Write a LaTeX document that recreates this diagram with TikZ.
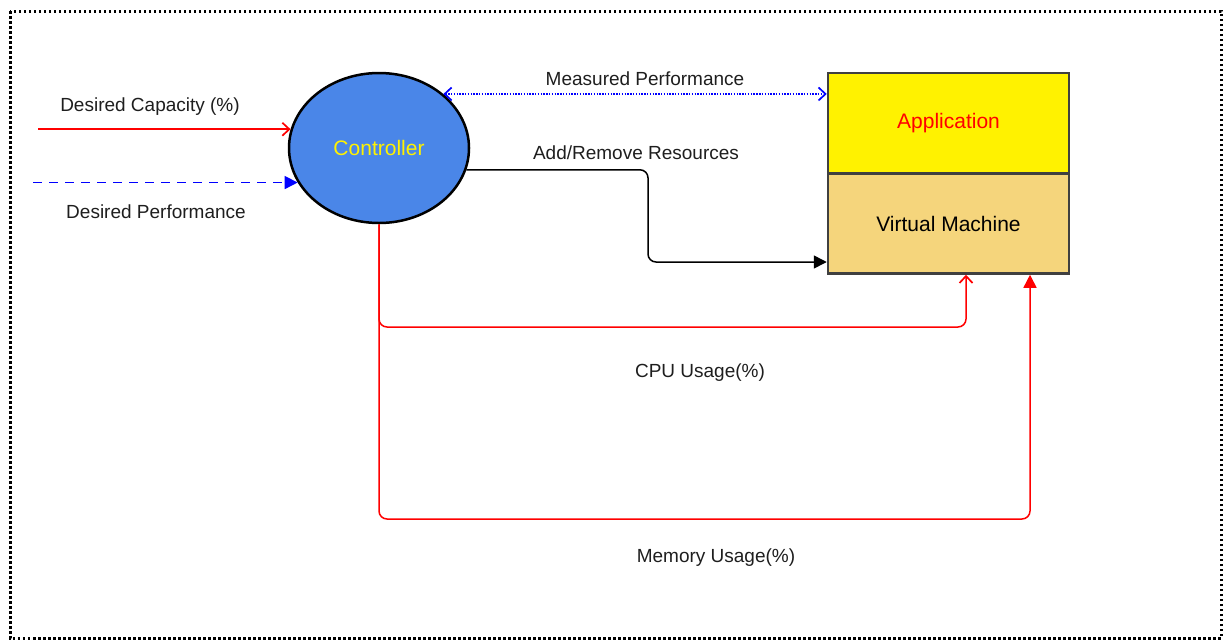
\documentclass[tikz,border=0pt]{standalone}
\usepackage{fontspec}
\setmainfont{Liberation Sans}
\usetikzlibrary{shapes.geometric,arrows.meta}

\definecolor{ctrlblue}{HTML}{4A86E8}
\definecolor{vmfill}{HTML}{F5D57C}
\definecolor{boxline}{HTML}{404040}
\definecolor{labeltext}{HTML}{1E1E1E}

\tikzset{
  lbl/.style={font=\fontsize{19}{21}\selectfont, text=labeltext, inner sep=0pt},
  boxlbl/.style={font=\fontsize{21}{23}\selectfont},
  layer/.style={draw=boxline, line width=2.5pt, minimum width=241pt, minimum height=100pt,
                inner sep=0pt, boxlbl},
  flow/.style={line width=1.5pt},
  barb/.tip={Straight Barb[length=7pt,width=13pt,line width=1.7pt]},
  openhead/.style={-barb},
  solidhead/.style={-{Triangle[length=13pt,width=13pt]}},
}

\begin{document}
\begin{tikzpicture}[x=1pt,y=-1pt]
  % page extent and dotted frame
  \useasboundingbox (0,0) rectangle (1230,643);
  \draw[line width=3pt, dash pattern=on 2.5pt off 2.5pt] (10,11) rectangle (1221,638);

  % controller and the managed stack
  \node[ellipse, draw=black, line width=2.5pt, fill=ctrlblue, minimum width=180pt,
        minimum height=150pt, inner sep=0pt, text=yellow, boxlbl] (ctrl) at (379,148) {Controller};
  \node[layer, fill=yellow, text=red] (app) at (948.5,123) {Application};
  \node[layer, fill=vmfill, text=black] (vm) at (948.5,223.5) {Virtual Machine};

  % free ends and bend points of the connectors
  \coordinate (capx) at (38,0);
  \coordinate (perfx) at (33,0);
  \coordinate (addc) at (648,262);
  \coordinate (cpuc) at (966,327);
  \coordinate (memc) at (1030,519);

  % inputs to the controller
  \draw[flow, red, openhead] (ctrl.168 -| capx) -- (ctrl.168);
  \draw[flow, blue, dash pattern=on 9pt off 7pt, solidhead] (ctrl.203 -| perfx) -- (ctrl.203);

  % measured performance feedback
  \draw[flow, blue, dash pattern=on 1.4pt off 1.4pt, barb-barb]
        (ctrl.40) -- (ctrl.40 -| app.west);

  % resource actions
  \draw[flow, black, solidhead, rounded corners=8pt] (ctrl.-14) -| (addc) -- (addc -| vm.west);

  % usage measurements
  \draw[flow, red, openhead, rounded corners=8pt] (ctrl.south) |- (cpuc) -- (cpuc |- vm.south);
  \draw[flow, red, solidhead, rounded corners=8pt] (ctrl.south) |- (memc) -- (memc |- vm.south);

  % connector labels
  \node[lbl] (capl) at (150,107) {Desired Capacity (\%)};
  \node[lbl] (perfl) at (156,212) {Desired Performance};
  \node[lbl] (measl) at (645,79) {Measured Performance};
  \node[lbl] (addl) at (636,153) {Add/Remove Resources};
  \node[lbl] (cpul) at (700,373) {CPU Usage(\%)};
  \node[lbl] (meml) at (716,558) {Memory Usage(\%)};
\end{tikzpicture}
\end{document}
